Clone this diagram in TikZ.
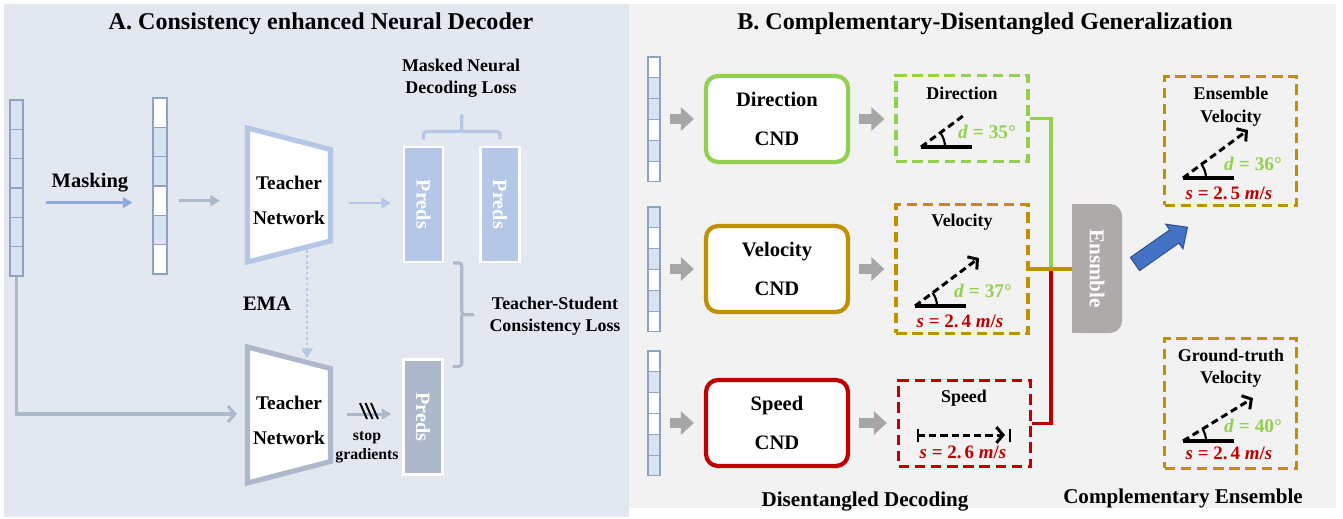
\documentclass[tikz,border=0pt]{standalone}
\usepackage{fontspec}
\setmainfont{Liberation Serif}
\usepackage{graphicx}
\usepackage{tikz}
\usetikzlibrary{arrows.meta, positioning, calc, angles}

\definecolor{panelA}{HTML}{E3E8F0}
\definecolor{panelB}{HTML}{F2F2F2}
\definecolor{cellblue}{HTML}{DAE3F3}
\definecolor{cellline}{HTML}{8EA3C2}
\definecolor{teachblue}{HTML}{B4C7E7}
\definecolor{studgray}{HTML}{ADB9CA}
\definecolor{maskblue}{HTML}{8FAADC}
\definecolor{dirgreen}{HTML}{92D050}
\definecolor{velgold}{HTML}{BF9000}
\definecolor{spdred}{HTML}{C00000}
\definecolor{flowgray}{HTML}{A6A6A6}
\definecolor{ensgray}{HTML}{AEAAAA}
\definecolor{outblue}{HTML}{4472C4}
\definecolor{outedge}{HTML}{2F528F}

\begin{document}
\begin{tikzpicture}[
        x=0.02cm, y=-0.02cm,
        heading/.style={font=\fontsize{13.7}{16}\selectfont\bfseries},
        tag/.style={font=\fontsize{11.7}{14}\selectfont\bfseries},
        note/.style={align=center, font=\fontsize{10.2}{12.5}\selectfont\bfseries},
        cell/.style={rectangle, draw=cellline, line width=0.6pt, inner sep=0pt, minimum width=0.26cm, minimum height=0.587cm},
        rcell/.style={cell, minimum width=0.24cm, minimum height=0.416cm},
        net/.style={line width=2.9pt, line join=miter, fill=white},
        netlabel/.style={align=center, font=\fontsize{11}{19.8}\selectfont\bfseries},
        preds/.style={rectangle, draw=white, line width=1.2pt, minimum width=0.78cm, minimum height=2.3cm, inner sep=0pt, text=white, font=\fontsize{11.5}{12}\selectfont\bfseries},
        cnd/.style={rectangle, rounded corners=0.24cm, line width=2.4pt, fill=white, minimum width=2.84cm, minimum height=1.72cm, align=center, font=\fontsize{11.7}{22.7}\selectfont\bfseries},
        res/.style={rectangle, line width=1.9pt, dash pattern=on 6pt off 3.2pt, minimum width=2.64cm},
        flow/.style={flowgray, line width=0.2cm, -{Triangle[length=0.26cm, width=0.46cm]}, shorten <=0.18cm, shorten >=0.2cm},
        feed/.style={line width=1.7pt, -{Triangle[length=5.5pt, width=6pt]}},
        bracket/.style={line width=1.8pt, rounded corners=0.06cm},
        armline/.style={line width=2.4pt},
        rayline/.style={line width=1.7pt, dash pattern=on 4pt off 2.4pt},
        barbtip/.style={-{Straight Barb[length=3.8pt, width=9pt]}},
        dval/.style={text=dirgreen, font=\fontsize{11}{12}\selectfont\bfseries},
        sval/.style={text=spdred, font=\fontsize{10.8}{12}\selectfont\bfseries},
        link/.style={line width=2.1pt}
    ]
    \useasboundingbox (0,0) rectangle (1343,518);

    % panels
    \fill[panelA] (4,4) rectangle (629,517);
    \fill[panelB] (629,4) rectangle (1336,508);

    \node[heading] (titleA) at (321,24) {A. Consistency enhanced Neural Decoder};
    \node[heading] (titleB) at (985,24) {B. Complementary-Disentangled Generalization};

    % ---------- A ----------
    % input and masked input
    \foreach \k in {1,...,6}
        \node[cell, fill=cellblue] (in\k) at (16.5, {100+29.33*(\k-0.5)}) {};
    \foreach \f [count=\k] in {white,cellblue,cellblue,white,cellblue,white}
        \node[cell, minimum width=0.28cm, fill=\f] (mk\k) at (160, {98+29.33*(\k-0.5)}) {};

    \draw[feed, maskblue, shorten <=0.44cm, shorten >=0.4cm] (in4.east) -- (in4.east -| mk4.west);
    \node[tag] (masking) at (90,183) {Masking};

    % teacher networks
    \draw[net, draw=teachblue] (247.5,128) -- (330.5,149.5) -- (330.5,241) -- (247.5,262) -- cycle;
    \draw[net, draw=studgray] (247.5,347) -- (330.5,368.5) -- (330.5,461.5) -- (247.5,483) -- cycle;
    \node[netlabel] (tup) at (289,200) {Teacher\\Network};
    \node[netlabel] (tlo) at (289,420) {Teacher\\Network};
    \coordinate (tupL) at (245,203);
    \coordinate (tupR) at (333,203);
    \coordinate (tupB) at (307,250);
    \coordinate (tloT) at (307,358);
    \coordinate (tloL) at (245,414);
    \coordinate (tloR) at (333,414);

    % predictions
    \node[preds, fill=teachblue] (p1) at (423.5,204.5) {\rotatebox{-90}{Preds}};
    \node[preds, fill=teachblue] (p2) at (500,204.5) {\rotatebox{-90}{Preds}};
    \node[preds, fill=studgray] (p3) at (423,417) {\rotatebox{-90}{Preds}};

    \draw[feed, studgray, shorten <=0.22cm, shorten >=0.5cm] (mk4.east) -- (mk4.east -| tupL);
    \draw[feed, teachblue, shorten <=0.32cm, shorten >=0.24cm] (tupR) -- (tupR -| p1.west);
    \draw[teachblue, line width=1.5pt, dash pattern=on 1.5pt off 1.6pt, -{Triangle[length=5.5pt, width=6.5pt]}] (tupB) -- (tloT);
    \node[tag] (ema) at (267,304) {EMA};
    \draw[studgray, line width=1.8pt, -{Straight Barb[length=4pt, width=9pt]}, shorten >=0.16cm] (in6.south) |- (tloL);
    \draw[feed, studgray, shorten <=0.28cm, shorten >=0.22cm] (tloR) -- (tloR -| p3.west);
    % stop gradient marks
    \foreach \dx in {0,5.5,11}
        \draw[line width=1.1pt] (360+\dx,403) -- (367+\dx,419);
    \node[align=center, font=\fontsize{9}{10.8}\selectfont\bfseries] (stopgrad) at (367,447.5) {stop\\gradients};

    % losses
    \coordinate (bl) at ([yshift=0.13cm]p1.north);
    \coordinate (br) at ([yshift=0.13cm]p2.north);
    \coordinate (bm) at ($(bl)!0.5!(br)+(0,-8)$);
    \coordinate (bt) at ($(bl)!0.5!(br)+(0,-25)$);
    \draw[bracket, teachblue] (bl) |- (bm) -- (bt);
    \draw[bracket, teachblue] (br) |- (bm);
    \node[note] (mloss) at (461,78) {Masked Neural\\Decoding Loss};

    \coordinate (cl) at ([xshift=0.18cm]p1.south east);
    \coordinate (cr) at ([xshift=0.18cm, yshift=-0.16cm]p3.north east);
    \coordinate (cm) at ($(cl)!0.5!(cr)+(9,0)$);
    \coordinate (ct) at ($(cl)!0.5!(cr)+(21,0)$);
    \draw[bracket, studgray] (cl) -| (cm) -- (ct);
    \draw[bracket, studgray] (cr) -| (cm);
    \node[note] (closs) at (555,316) {Teacher-Student\\Consistency Loss};

    % ---------- B ----------
    \foreach \f [count=\k] in {white,cellblue,cellblue,white,cellblue,white}
        \node[rcell, fill=\f] (da\k) at (654, {57+20.83*(\k-0.5)}) {};
    \foreach \f [count=\k] in {cellblue,white,cellblue,white,cellblue,white}
        \node[rcell, fill=\f] (va\k) at (654, {207+20.83*(\k-0.5)}) {};
    \foreach \f [count=\k] in {white,cellblue,white,white,cellblue,cellblue}
        \node[rcell, fill=\f] (sa\k) at (654, {351+20.83*(\k-0.5)}) {};

    \node[cnd, draw=dirgreen] (dircnd) at (777,119) {Direction\\CND};
    \node[cnd, draw=velgold] (velcnd) at (777,269) {Velocity\\CND};
    \node[cnd, draw=spdred] (spdcnd) at (777,423) {Speed\\CND};

    \node[res, draw=dirgreen, minimum height=1.72cm] (dirres) at (962,118.5) {};
    \node[res, draw=velgold, minimum height=2.58cm] (velres) at (962,269) {};
    \node[res, draw=spdred, minimum height=1.72cm] (spdres) at (964.5,423.5) {};

    \draw[flow] (dircnd.west -| da1.east) -- (dircnd.west);
    \draw[flow] (velcnd.west -| va1.east) -- (velcnd.west);
    \draw[flow] (spdcnd.west -| sa1.east) -- (spdcnd.west);
    \draw[flow] (dircnd.east) -- (dircnd.east -| dirres.west);
    \draw[flow] (velcnd.east) -- (velcnd.east -| velres.west);
    \draw[flow] (spdcnd.east) -- (spdcnd.east -| spdres.west);

    % direction
    \node[note] (dirtitle) at (962,93) {Direction};
    \coordinate (dA) at (921,147);
    \coordinate (dB) at (972,147);
    \coordinate (dC) at (963,116);
    \draw[armline] (dA) -- (dB);
    \draw[rayline] (dA) -- (dC);
    \pic[draw, line width=1.2pt, angle radius=0.48cm] {angle=dB--dA--dC};
    \node[dval] (dirdeg) at (987,132) {\textit{d} = 35°};

    % velocity
    \node[note] (veltitle) at (962,222) {Velocity};
    \coordinate (vA) at (915,306);
    \coordinate (vB) at (966,306);
    \coordinate (vC) at (979,258);
    \draw[armline] (vA) -- (vB);
    \pic[draw, line width=1.2pt, angle radius=0.44cm] {angle=vB--vA--vC};
    \draw[rayline, barbtip] (vA) -- (vC);
    \node[dval] (veldeg) at (983,291) {\textit{d} = 37°};
    \node[sval] (velspd) at (960,321) {\textit{s} = 2.\,4 \textit{m}/\textit{s}};

    % speed
    \node[note] (spdtitle) at (964,398) {Speed};
    \coordinate (sA) at (918,435);
    \coordinate (sB) at (1010,435);
    \draw[rayline, barbtip, shorten >=0.1cm] (sA) -- (sB);
    \draw[line width=1.4pt] ($(sA)+(0,-6.5)$) -- ($(sA)+(0,6.5)$);
    \draw[line width=1.4pt] ($(sB)+(0,-6.5)$) -- ($(sB)+(0,6.5)$);
    \node[sval] (spdval) at (963,452) {\textit{s} = 2.\,6 \textit{m}/\textit{s}};

    \node[tag, font=\fontsize{12}{14}\selectfont\bfseries] (decB) at (865,502) {Disentangled Decoding};

    % ensemble
    \fill[ensgray, rounded corners=0.24cm] (1072,204) rectangle (1122,333);
    \fill[ensgray] (1072,204) rectangle (1092,333);
    \node[text=white, minimum width=1cm, minimum height=2.58cm, inner sep=0pt, font=\fontsize{12}{14}\selectfont\bfseries] (ens) at (1097,268.5) {\rotatebox{-90}{Ensmble}};

    \coordinate (jn) at (1051,269);
    \draw[link, dirgreen] (dirres.east) -| (jn);
    \draw[link, spdred] (spdres.east) -| (jn);
    \draw[link, velgold] (velres.east) -- (velres.east -| ens.west);

    \begin{scope}[shift={(1135,264)}, rotate=35]
        \draw[fill=outblue, draw=outedge, line width=0.6pt, line join=miter]
            (0,8) -- (48,8) -- (48,15) -- (64,0) -- (48,-15) -- (48,-8) -- (0,-8) -- cycle;
    \end{scope}

    \node[res, draw=velgold, minimum height=2.58cm] (ensres) at (1230.5,141) {};
    \node[note, font=\fontsize{10.2}{13}\selectfont\bfseries] (enstitle) at (1231,106.5) {Ensemble\\Velocity};
    \coordinate (eA) at (1183,178);
    \coordinate (eB) at (1234,178);
    \coordinate (eC) at (1248,130);
    \draw[armline] (eA) -- (eB);
    \pic[draw, line width=1.2pt, angle radius=0.46cm] {angle=eB--eA--eC};
    \draw[rayline, barbtip] (eA) -- (eC);
    \node[dval] (ensdeg) at (1253,164) {\textit{d} = 36°};
    \node[sval] (ensspd) at (1229,193) {\textit{s} = 2.\,5 \textit{m}/\textit{s}};

    \node[res, draw=velgold, minimum height=2.6cm] (gtres) at (1230.5,403.5) {};
    \node[note] (gttitle) at (1231,368) {Ground-truth\\Velocity};
    \coordinate (gA) at (1183,441);
    \coordinate (gB) at (1234,441);
    \coordinate (gC) at (1253,398);
    \draw[armline] (gA) -- (gB);
    \pic[draw, line width=1.2pt, angle radius=0.46cm] {angle=gB--gA--gC};
    \draw[rayline, barbtip] (gA) -- (gC);
    \node[dval] (gtdeg) at (1253,426) {\textit{d} = 40°};
    \node[sval] (gtspd) at (1229,453) {\textit{s} = 2.\,4 \textit{m}/\textit{s}};

    \node[tag, font=\fontsize{12}{14}\selectfont\bfseries] (ensB) at (1183,498) {Complementary Ensemble};
\end{tikzpicture}
\end{document}
